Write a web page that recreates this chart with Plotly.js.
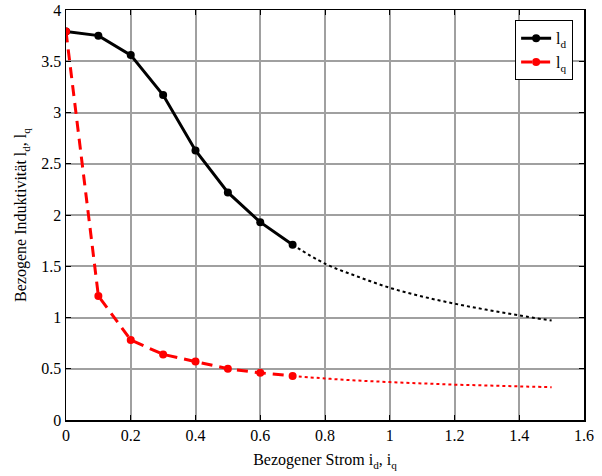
<!DOCTYPE html>
<html>
<head>
<meta charset="utf-8">
<script src="https://cdn.plot.ly/plotly-3.0.1.min.js"></script>
<style>html,body{margin:0;padding:0;background:#fff;}#plot{width:602px;height:476px;}</style>
</head>
<body>
<div id="plot"></div>
<script>
// Measured points
const iMeas = [0, 0.1, 0.2, 0.3, 0.4, 0.5, 0.6, 0.7];
const ldMeas = [3.79, 3.75, 3.56, 3.17, 2.63, 2.22, 1.93, 1.71];
const lqMeas = [3.79, 1.21, 0.78, 0.64, 0.57, 0.50, 0.46, 0.43];
// Extrapolated (dotted) parts
const iExt = [0.7, 0.8, 0.9, 1.0, 1.1, 1.2, 1.3, 1.4, 1.5];
const ldExt = [1.71, 1.525, 1.40, 1.29, 1.205, 1.135, 1.075, 1.02, 0.97];
const lqExt = [0.43, 0.405, 0.385, 0.37, 0.357, 0.345, 0.337, 0.328, 0.32];
const xTicks = [0, 0.2, 0.4, 0.6, 0.8, 1, 1.2, 1.4, 1.6];
const yTicks = [0, 0.5, 1, 1.5, 2, 2.5, 3, 3.5, 4];

const traces = [
  {x: iExt, y: ldExt, mode: 'lines', line: {color: 'black', width: 2, dash: 'dot', shape: 'spline'}, showlegend: false, hoverinfo: 'skip'},
  {x: iExt, y: lqExt, mode: 'lines', line: {color: 'red', width: 2, dash: 'dot', shape: 'spline'}, showlegend: false, hoverinfo: 'skip'},
  {x: iMeas, y: ldMeas, mode: 'lines+markers', name: 'l<sub>d</sub>', line: {color: 'black', width: 3}, marker: {color: 'black', size: 8}},
  {x: iMeas, y: lqMeas, mode: 'lines+markers', name: 'l<sub>q</sub>', line: {color: 'red', width: 3, dash: '11px,7px'}, marker: {color: 'red', size: 8}}
];

const fontFam = 'Liberation Serif, Times New Roman, serif';
const axisCommon = {
  showline: true, linecolor: 'black', linewidth: 1.5, mirror: 'ticks',
  ticks: 'inside', ticklen: 5, tickcolor: 'black', tickwidth: 1,
  showgrid: true, gridcolor: '#a0a0a0', gridwidth: 2,
  zeroline: false, tickfont: {family: fontFam, size: 16, color: 'black'}
};

const layout = {
  width: 602, height: 476,
  margin: {l: 66, r: 18, t: 10, b: 56},
  paper_bgcolor: 'white', plot_bgcolor: 'white',
  font: {family: fontFam, size: 16, color: 'black'},
  xaxis: Object.assign({}, axisCommon, {
    range: [0, 1.6], tickvals: xTicks, ticktext: xTicks.map(String),
    title: {text: 'Bezogener Strom i<sub>d</sub>, i<sub>q</sub>', font: {family: fontFam, size: 16, color: 'black'}, standoff: 11}
  }),
  yaxis: Object.assign({}, axisCommon, {
    range: [0, 4], tickvals: yTicks, ticktext: yTicks.map(String),
    title: {text: 'Bezogene Induktivität l<sub>d</sub>, l<sub>q</sub>', font: {family: fontFam, size: 16, color: 'black'}, standoff: 10}
  }),
  legend: {
    x: 0.979, y: 0.975, xanchor: 'right', yanchor: 'top',
    bordercolor: 'black', borderwidth: 1, bgcolor: 'white',
    font: {family: fontFam, size: 16, color: 'black'},
    itemwidth: 30, tracegroupgap: 0
  },
  showlegend: true
};

Plotly.newPlot('plot', traces, layout, {staticPlot: true, displayModeBar: false});
</script>
</body>
</html>
